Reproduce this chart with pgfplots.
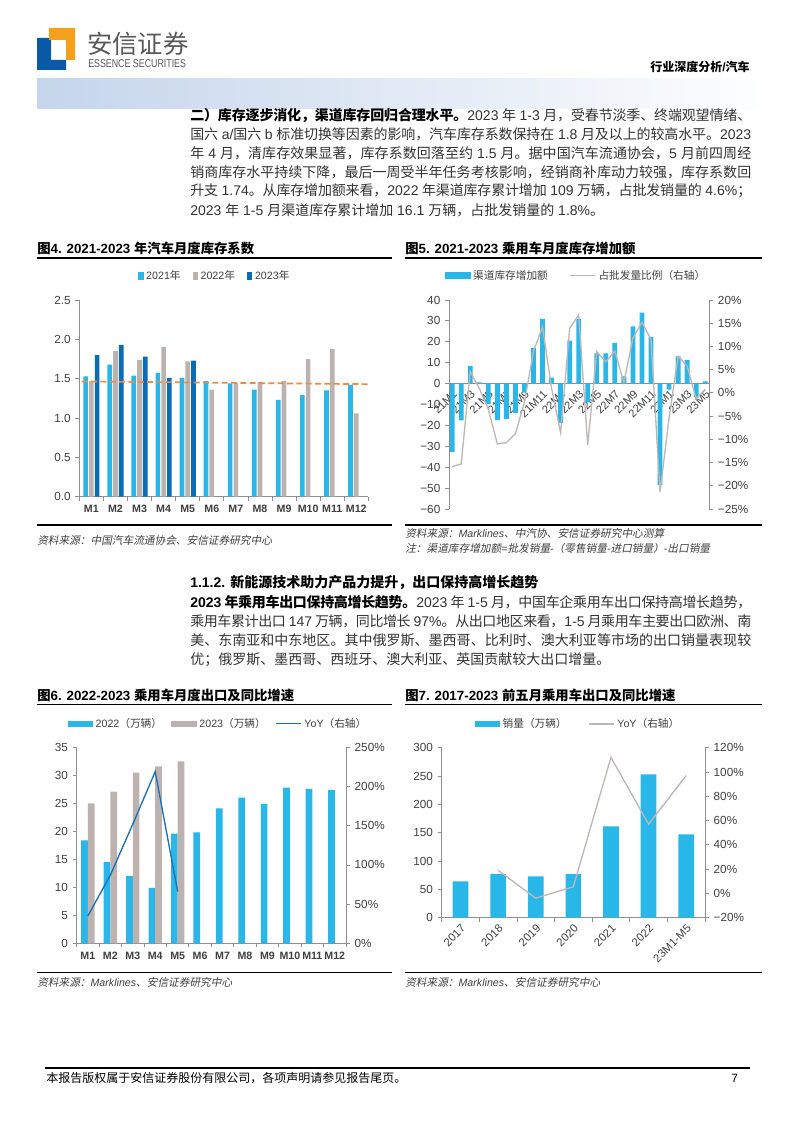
\documentclass[border=0pt]{standalone}
\usepackage{pgfplots}
\pgfplotsset{compat=1.18}
\usepackage{fontspec}
\setmainfont{Liberation Sans}
\newfontfamily\cjkfont{Noto Sans CJK SC}[ItalicFont={Noto Sans CJK SC}, ItalicFeatures={FakeSlant=0.2}]
\XeTeXinterchartokenstate=1
\newXeTeXintercharclass\CJKcls
\newcount\cjkc
\def\setcjkrange#1#2{\cjkc=#1\relax\loop\XeTeXcharclass\cjkc=\CJKcls\relax\ifnum\cjkc<#2\relax\advance\cjkc by 1\relax\repeat}
\setcjkrange{"3000}{"303F}
\setcjkrange{"4E00}{"9FFF}
\setcjkrange{"FF00}{"FFEF}
\XeTeXinterchartoks 0 \CJKcls={\cjkfont}
\XeTeXinterchartoks 4095 \CJKcls={\cjkfont}
\XeTeXinterchartoks \CJKcls 0={\rmfamily}
\XeTeXinterchartoks \CJKcls 4095={\rmfamily}
\XeTeXinterchartoks \CJKcls \CJKcls={\hskip 0pt plus 1pt minus 0.4pt\relax}

\definecolor{c21}{HTML}{29B6E8}
\definecolor{c22}{HTML}{BCB3B1}
\definecolor{c23}{HTML}{0B6CB3}
\definecolor{dashor}{HTML}{EE8A45}
\definecolor{lgray}{HTML}{BFB7B5}
\definecolor{yoyblue}{HTML}{1E6FB4}
\definecolor{axisgray}{HTML}{8F8F8F}
\definecolor{tickgray}{HTML}{404040}
\definecolor{bodygray}{HTML}{333333}
\definecolor{srcgray}{HTML}{404040}
\definecolor{logoblue}{HTML}{0B5AA7}
\definecolor{logoorange}{HTML}{F5A01A}
\definecolor{logogray}{HTML}{595959}
\definecolor{hdrblue}{HTML}{C5D5EB}

\pgfplotsset{
  mychart/.style={
    scale only axis, anchor=south west,
    axis line style={draw=axisgray, line width=0.6pt},
    tick style={draw=axisgray, line width=0.6pt},
    tick align=outside,
    major tick length=3pt, minor tick length=3pt,
    ticklabel style={font=\fontsize{8.8pt}{10pt}\selectfont, text=tickgray},
    /pgf/number format/assume math mode=true,
    clip=false,
    legend style={draw=none, fill=none, font=\fontsize{8pt}{10pt}\selectfont, text=tickgray, anchor=center},
    legend cell align=left,
  },
  signedint/.style={yticklabel={\pgfmathtruncatemacro\tv{\tick}\ifnum\tv<0 −\the\numexpr-\tv\relax\else\tv\fi#1}},
  rectleg/.style={legend image code/.code={\fill[##1] (0pt,-2.3pt) rectangle (19pt,2.3pt);}},
  sqleg/.style={legend image code/.code={\fill[##1] (0pt,-2.8pt) rectangle (4pt,2.8pt);}},
  lineleg/.style={legend image code/.code={\draw[##1] (0pt,0pt) -- (19pt,0pt);}},
}

\newcommand\jl[3]{\node[anchor=west,inner sep=0pt,text=bodygray] at (#1,#2) {\parbox{420.75pt}{\fontsize{10.5pt}{12pt}\selectfont\parfillskip=0pt\tolerance=10000\relax #3}};}
\newcommand\lline[3]{\node[anchor=west,inner sep=0pt,text=bodygray] at (#1,#2) {\fontsize{10.5pt}{12pt}\selectfont #3};}
\newcommand\ftitle[3]{\node[anchor=west,inner sep=0pt] at (#1,#2) {\fontsize{10pt}{12pt}\selectfont\bfseries #3};}
\newcommand\src[3]{\node[anchor=west,inner sep=0pt,text=srcgray] at (#1,#2) {\fontsize{8pt}{10pt}\selectfont\itshape #3};}

\begin{document}
\begin{tikzpicture}
\begin{scope}[x=0.75pt,y=-0.75pt]
\fill[white] (0,0) rectangle (794,1123);
% header
\fill[logoblue] (37,38) -- (51,38) -- (51,60) -- (66,60) -- (66,70) -- (37,70) -- cycle;
\fill[logoorange] (49,28) -- (75,28) -- (75,60) -- (66,60) -- (66,40) -- (49,40) -- cycle;
\node[anchor=west,inner sep=0pt,text=logogray] at (87,44) {\fontsize{19pt}{21pt}\selectfont 安信证券};
\node[anchor=west,inner sep=0pt,text=logogray] at (88,64) {\scalebox{0.78}[1]{\fontsize{8.5pt}{10pt}\selectfont ESSENCE SECURITIES}};
\node[anchor=east,inner sep=0pt] at (750,67) {\fontsize{9pt}{11pt}\selectfont\bfseries 行业深度分析/汽车};
\shade[left color=hdrblue, right color=white] (37,79) rectangle (780,109);
% paragraph 1
\jl{190}{116}{{\bfseries\color{black}二）库存逐步消化，渠道库存回归合理水平。}2023 年 1-3 月，受春节淡季、终端观望情绪、}
\jl{190}{134.8}{国六 a/国六 b 标准切换等因素的影响，汽车库存系数保持在 1.8 月及以上的较高水平。2023}
\jl{190}{153.6}{年 4 月，清库存效果显著，库存系数回落至约 1.5 月。据中国汽车流通协会，5 月前四周经}
\jl{190}{172.4}{销商库存水平持续下降，最后一周受半年任务考核影响，经销商补库动力较强，库存系数回}
\jl{190}{191.2}{升支 1.74。从库存增加额来看，2022 年渠道库存累计增加 109 万辆，占批发销量的 4.6\%；}
\lline{190}{210}{2023 年 1-5 月渠道库存累计增加 16.1 万辆，占批发销量的 1.8\%。}
% figure 4/5 frames
\ftitle{37}{248}{图4. 2021-2023 年汽车月度库存系数}
\draw[line width=1pt] (37,258) -- (392,258);
\draw[line width=1pt] (37,525) -- (392,525);
\src{37}{540}{资料来源：中国汽车流通协会、安信证券研究中心}
\ftitle{405}{248}{图5. 2021-2023 乘用车月度库存增加额}
\draw[line width=1pt] (405,258) -- (762,258);
\draw[line width=1pt] (405,525) -- (762,525);
\src{405}{533}{资料来源：Marklines、中汽协、安信证券研究中心测算}
\src{405}{548}{注：渠道库存增加额=批发销量-（零售销量-进口销量）-出口销量}
% paragraph 2
\lline{190}{583}{\bfseries\color{black}1.1.2. 新能源技术助力产品力提升，出口保持高增长趋势}
\jl{190}{602.5}{{\bfseries\color{black}2023 年乘用车出口保持高增长趋势。}2023 年 1-5 月，中国车企乘用车出口保持高增长趋势，}
\jl{190}{621.5}{乘用车累计出口 147 万辆，同比增长 97\%。从出口地区来看，1-5 月乘用车主要出口欧洲、南}
\jl{190}{640.5}{美、东南亚和中东地区。其中俄罗斯、墨西哥、比利时、澳大利亚等市场的出口销量表现较}
\lline{190}{659.5}{优；俄罗斯、墨西哥、西班牙、澳大利亚、英国贡献较大出口增量。}
% figure 6/7 frames
\ftitle{37}{695}{图6. 2022-2023 乘用车月度出口及同比增速}
\draw[line width=1pt] (37,704.5) -- (392,704.5);
\draw[line width=1pt] (37,972.5) -- (392,972.5);
\src{37}{982}{资料来源：Marklines、安信证券研究中心}
\ftitle{405}{695}{图7. 2017-2023 前五月乘用车出口及同比增速}
\draw[line width=1pt] (405,704.5) -- (762,704.5);
\draw[line width=1pt] (405,972.5) -- (762,972.5);
\src{405}{982}{资料来源：Marklines、安信证券研究中心}
% footer
\draw[line width=0.8pt] (45,1068) -- (750,1068);
\node[anchor=west,inner sep=0pt] at (46,1078) {\fontsize{9pt}{11pt}\selectfont 本报告版权属于安信证券股份有限公司，各项声明请参见报告尾页。};
\node[anchor=west,inner sep=0pt] at (731,1078) {\fontsize{9pt}{11pt}\selectfont 7};
\end{scope}

% ---------- Figure 4 ----------
\begin{axis}[mychart,
  at={(59.5pt,-372.5pt)}, width=216.75pt, height=147.5pt,
  xmin=-0.5, xmax=11.5, ymin=0, ymax=2.5,
  axis x line*=bottom, axis y line*=left,
  xtick={0,...,11}, xticklabels={M1,M2,M3,M4,M5,M6,M7,M8,M9,M10,M11,M12},
  minor xtick={-0.5,0.5,...,11.5},
  major x tick style={draw=none},
  ytick={0,0.5,...,2.5},
  yticklabel style={/pgf/number format/.cd, fixed, fixed zerofill, precision=1},
  xticklabel style={font=\fontsize{8pt}{10pt}\selectfont\bfseries},
  ybar=0.8pt, bar width=3.5pt,
  legend columns=3,
  legend style={at={(0.47,1.122)}, /tikz/every even column/.append style={column sep=7pt}},
]
\addplot[fill=c21, draw=none, sqleg] coordinates {(0,1.53) (1,1.68) (2,1.54) (3,1.575) (4,1.51) (5,1.47) (6,1.44) (7,1.36) (8,1.23) (9,1.29) (10,1.35) (11,1.42)};
\addplot[fill=c22, draw=none, sqleg] coordinates {(0,1.47) (1,1.85) (2,1.74) (3,1.90) (4,1.72) (5,1.36) (6,1.44) (7,1.46) (8,1.47) (9,1.75) (10,1.88) (11,1.06)};
\addplot[fill=c23, draw=none, sqleg] coordinates {(0,1.80) (1,1.93) (2,1.78) (3,1.51) (4,1.73)};
\legend{2021年,2022年,2023年}
\end{axis}
\begin{axis}[scale only axis, anchor=south west, at={(59.5pt,-372.5pt)}, width=216.75pt, height=147.5pt,
  xmin=-0.5, xmax=11.5, ymin=0, ymax=2.5, hide axis, clip=false]
\addplot[dashor, line width=1.3pt, dash pattern=on 4.5pt off 2.5pt] coordinates {(-0.4,1.465) (11.5,1.43)};
\end{axis}

% ---------- Figure 5 ----------
\begin{axis}[mychart,
  at={(336.75pt,-381.75pt)}, width=195.2pt, height=156.75pt,
  xmin=-0.35, xmax=28.45, ymin=-60, ymax=40,
  axis x line*=middle, axis y line*=left,
  hide obscured x ticks=false, hide obscured y ticks=false,
  xtick={0,2,...,28},
  xticklabels={21M1,21M3,21M5,21M7,21M9,21M11,22M1,22M3,22M5,22M7,22M9,22M11,23M1,23M3,23M5},
  major x tick style={draw=none},
  xticklabel style={rotate=45, anchor=north east, font=\fontsize{8.3pt}{10pt}\selectfont, inner sep=0.8pt},
  ytick={-60,-50,...,40},
  signedint={},
  ybar, bar width=3.6pt,
  legend columns=2,
  legend style={at={(0.49,1.117)}, /tikz/every even column/.append style={column sep=14pt}},
]
\addplot[fill=c21, draw=none, rectleg] coordinates {(0,-32.7) (1,-17.6) (2,8.4) (3,0.6) (4,-9.8) (5,-17.3) (6,-16.9) (7,-14.0) (8,-4.3) (9,17.1) (10,31.0) (11,2.8) (12,-18.8) (13,20.6) (14,31.0) (15,-9.0) (16,14.5) (17,14.5) (18,19.5) (19,3.4) (20,27.4) (21,34.0) (22,22.4) (23,-48.4) (24,-2.9) (25,13.0) (26,11.3) (27,-6.6) (28,1.1)};
\addlegendentry{渠道库存增加额}
\addlegendimage{lineleg, lgray, line width=1pt}
\addlegendentry{占批发量比例（右轴）}
\end{axis}
\begin{axis}[mychart,
  at={(336.75pt,-381.75pt)}, width=195.2pt, height=156.75pt,
  xmin=-0.35, xmax=28.45, ymin=-25, ymax=20,
  axis x line=none, axis y line*=right,
  ytick={-25,-20,...,20},
  signedint={\%},
]
\addplot[lgray, line width=1pt] coordinates {(0,-15.9) (1,-15.3) (2,4.6) (3,1.0) (4,-3.5) (5,-11.0) (6,-10.7) (7,-8.8) (8,-2.0) (9,9.0) (10,14.2) (11,1.0) (12,-8.6) (13,13.9) (14,16.8) (15,-11.2) (16,8.9) (17,6.7) (18,9.0) (19,2.2) (20,11.8) (21,15.2) (22,11.5) (23,-21.3) (24,-5.5) (25,7.9) (26,5.8) (27,-1.3) (28,0.8)};
\end{axis}

% ---------- Figure 6 ----------
\begin{axis}[mychart,
  at={(57.5pt,-707.5pt)}, width=202pt, height=147pt,
  xmin=-0.5, xmax=11.5, ymin=0, ymax=35,
  axis x line*=bottom, axis y line*=left,
  xtick={0,...,11}, xticklabels={M1,M2,M3,M4,M5,M6,M7,M8,M9,M10,M11,M12},
  minor xtick={-0.5,0.5,...,11.5},
  major x tick style={draw=none},
  ytick={0,5,...,35},
  xticklabel style={font=\fontsize{8pt}{10pt}\selectfont\bfseries},
  ybar=0pt, bar width=5pt,
  legend columns=3,
  legend style={at={(0.526,1.121)}, /tikz/every even column/.append style={column sep=5pt}},
]
\addplot[fill=c21, draw=none, rectleg] coordinates {(0,18.4) (1,14.5) (2,12.0) (3,9.9) (4,19.6) (5,19.8) (6,24.1) (7,26.0) (8,24.9) (9,27.8) (10,27.6) (11,27.4)};
\addplot[fill=c22, draw=none, rectleg] coordinates {(0,25.0) (1,27.1) (2,30.5) (3,31.6) (4,32.5)};
\addlegendentry{2022（万辆）}
\addlegendentry{2023（万辆）}
\addlegendimage{lineleg, yoyblue, line width=1pt}
\addlegendentry{YoY（右轴）}
\end{axis}
\begin{axis}[mychart,
  at={(57.5pt,-707.5pt)}, width=202pt, height=147pt,
  xmin=-0.5, xmax=11.5, ymin=0, ymax=250,
  axis x line=none, axis y line*=right,
  ytick={0,50,...,250},
  signedint={\%},
]
\addplot[yoyblue, line width=1pt] coordinates {(0,35) (1,87) (2,152) (3,219) (4,66)};
\end{axis}

% ---------- Figure 7 ----------
\begin{axis}[mychart,
  at={(331.25pt,-688.25pt)}, width=197.5pt, height=127.5pt,
  xmin=-0.5, xmax=6.5, ymin=0, ymax=300,
  axis x line*=bottom, axis y line*=left,
  xtick={0,...,6}, xticklabels={2017,2018,2019,2020,2021,2022,23M1-M5},
  minor xtick={-0.5,0.5,...,6.5},
  major x tick style={draw=none},
  ytick={0,50,...,300},
  xticklabel style={rotate=45, anchor=north east, font=\fontsize{8.5pt}{10pt}\selectfont, inner sep=1pt},
  ybar, bar width=11.75pt,
  legend columns=2,
  legend style={at={(0.519,1.14)}, /tikz/every even column/.append style={column sep=14pt}},
]
\addplot[fill=c21, draw=none, rectleg] coordinates {(0,64) (1,77) (2,73) (3,77) (4,161) (5,253) (6,147)};
\addlegendentry{销量（万辆）}
\addlegendimage{lineleg, lgray, line width=1pt}
\addlegendentry{YoY（右轴）}
\end{axis}
\begin{axis}[mychart,
  at={(331.25pt,-688.25pt)}, width=197.5pt, height=127.5pt,
  xmin=-0.5, xmax=6.5, ymin=-20, ymax=120,
  axis x line=none, axis y line*=right,
  ytick={-20,0,...,120},
  signedint={\%},
]
\addplot[lgray, line width=1pt] coordinates {(1,19) (2,-4) (3,5.5) (4,112) (5,57) (6,97)};
\end{axis}
\end{tikzpicture}
\end{document}
